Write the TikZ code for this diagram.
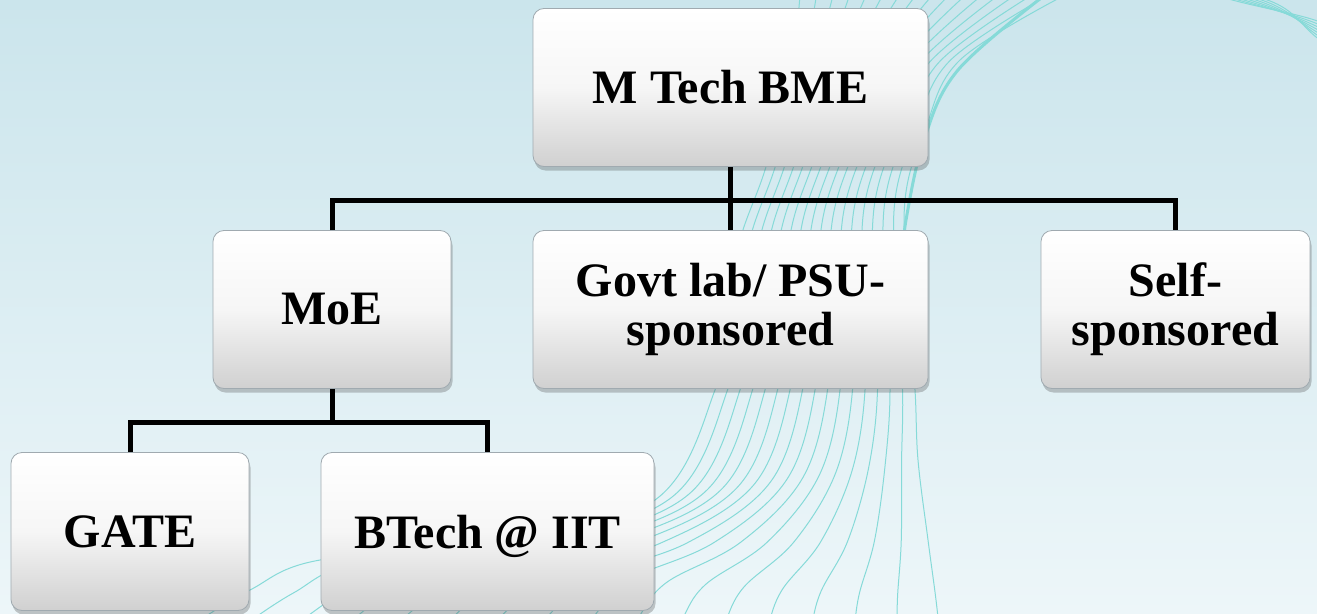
\documentclass[tikz,border=0pt]{standalone}
\usepackage{fontspec}
\setmainfont{Liberation Serif}
\usetikzlibrary{shadows}
\definecolor{bgtop}{RGB}{203,229,236}
\definecolor{bgbot}{RGB}{237,246,249}
\definecolor{swirl}{RGB}{134,218,216}
\definecolor{boxbot}{RGB}{208,208,208}
\definecolor{boxmid}{RGB}{246,246,246}
\definecolor{boxedge}{RGB}{160,170,176}
\begin{document}
\begin{tikzpicture}[x=1pt,y=-1pt,
  orgbox/.style={draw=boxedge, line width=0.8pt, rounded corners=11pt,
    top color=white, bottom color=boxbot, middle color=boxmid,
    minimum height=158pt, inner sep=0pt, align=center,
    font=\bfseries\fontsize{48}{49}\selectfont,
    drop shadow={shadow xshift=1.5pt, shadow yshift=-4pt, opacity=0.3, fill=black!70}},
  conn/.style={line width=5pt, black, line join=miter},
  swl/.style={draw=swirl, line width=1pt}]
\useasboundingbox (0,0) rectangle (1317,613);
\fill[top color=bgtop, bottom color=bgbot] (0,0) rectangle (1317,613);
\begin{scope}
\clip (0,0) rectangle (1317,613);
% main swirl bundle
\foreach \i in {0,...,16}{
  \pgfmathsetmacro\s{\i/16}
  \draw[swl] plot[smooth, tension=0.6] coordinates {
    ({800+265*\s},-5) ({790+170*\s},{80-20*\s}) ({765+160*\s},{170-40*\s})
    ({740+165*\s},{240-40*\s}) ({725+183*\s},{320-20*\s}) ({715+200*\s},390)
    ({655+263*\s},{500-40*\s}) ({500+428*\s},{545-5*\s}) ({320+616*\s},{560+40*\s})
    ({250+690*\s},{590+50*\s}) ({200+742*\s},{620+60*\s}) };
}
% thicker band at the pinch
\draw[draw=swirl, line width=3pt] plot[smooth, tension=0.6] coordinates {
  (1045,-5) (958,70) (924,140) (906,220) (904,250)};
% top right corner lines
\foreach \i in {0,...,6}{
  \draw[swl] ({1225+6*\i},-2) .. controls ({1260+6*\i},8) and (1300,{14+2*\i}) .. (1320,{22+3*\i});
}
\end{scope}
\node[orgbox, minimum width=395pt] (top) at (730.5,87.5) {M Tech BME};
\node[orgbox, minimum width=238pt] (moe) at (332,309.5) {MoE};
\node[orgbox, minimum width=395pt] (govt) at (730.5,309.5) {Govt lab/ PSU-\\sponsored};
\node[orgbox, minimum width=269pt] (self) at (1175.5,309.5) {Self-\\sponsored};
\node[orgbox, minimum width=238pt] (gate) at (130,531.5) {GATE};
\node[orgbox, minimum width=333pt, text depth=0pt] (btech) at (487.5,531.5) {BTech @ IIT};
\coordinate (bus1) at (731,200);
\coordinate (bus2) at (332,422);
\draw[conn] (top.south) -- (govt.north);
\draw[conn] (moe.north) -- (moe.north |- bus1) -- (self.north |- bus1) -- (self.north);
\draw[conn] (moe.south) -- (moe.south |- bus2);
\draw[conn] (gate.north) -- (gate.north |- bus2) -- (btech.north |- bus2) -- (btech.north);
\end{tikzpicture}
\end{document}
